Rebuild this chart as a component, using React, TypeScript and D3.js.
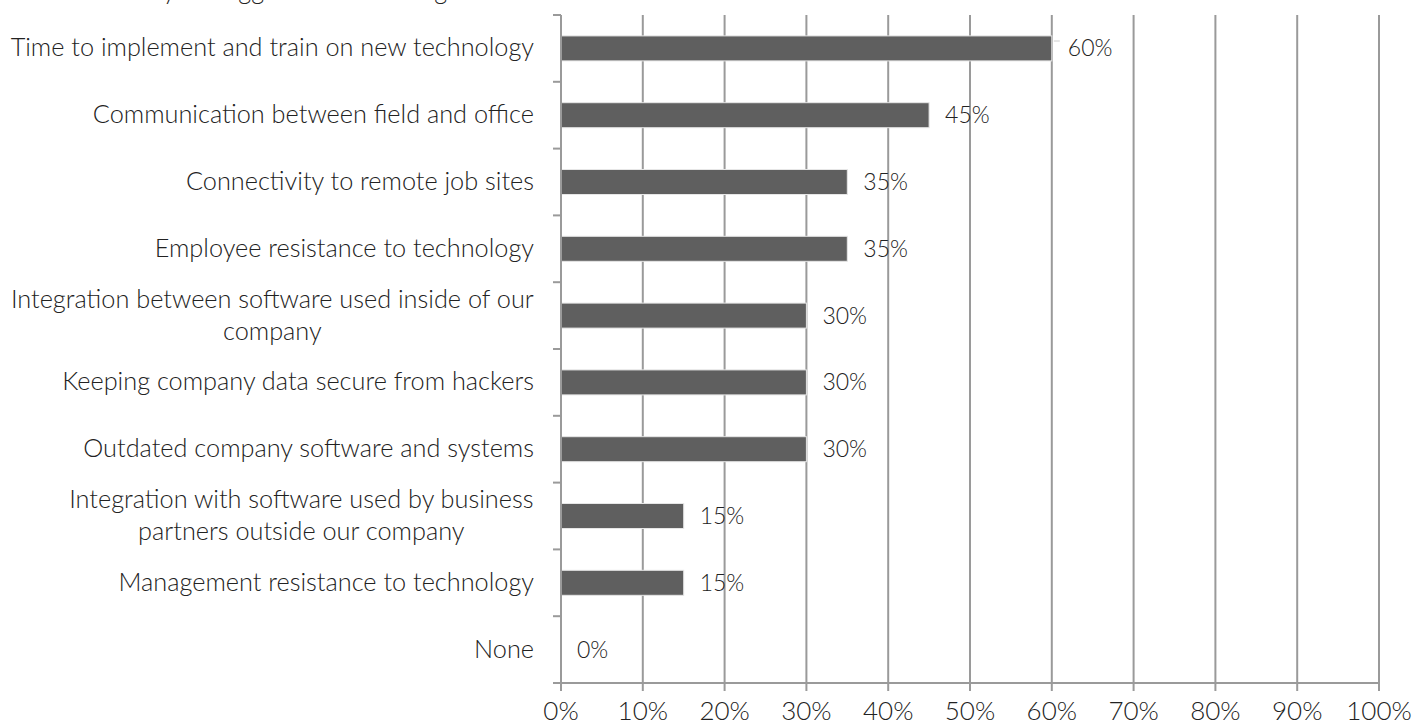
import React from "react";
import * as d3 from "d3";

const categories = [
  "Time to implement and train on new technology",
  "Communication between field and office",
  "Connectivity to remote job sites",
  "Employee resistance to technology",
  "Integration between software used inside of our company",
  "Keeping company data secure from hackers",
  "Outdated company software and systems",
  "Integration with software used by business partners outside our company",
  "Management resistance to technology",
  "None",
];
const categoryLines = [
  ["Time to implement and train on new technology"],
  ["Communication between field and office"],
  ["Connectivity to remote job sites"],
  ["Employee resistance to technology"],
  ["Integration between software used inside of our", "company"],
  ["Keeping company data secure from hackers"],
  ["Outdated company software and systems"],
  ["Integration with software used by business", "partners outside our company"],
  ["Management resistance to technology"],
  ["None"],
];
const values = [0.6, 0.45, 0.35, 0.35, 0.3, 0.3, 0.3, 0.15, 0.15, 0];
const xTicks = [0, 0.1, 0.2, 0.3, 0.4, 0.5, 0.6, 0.7, 0.8, 0.9, 1.0];
const titleText = "What are your biggest tech challenges?";

const W = 1415;
const H = 728;
const FONT = "Lato, 'Open Sans', sans-serif";
const CAT_SIZE = 25.3;

let ctx: CanvasRenderingContext2D | null = null;
function measure(s: string, size: number) {
  if (!ctx) ctx = document.createElement("canvas").getContext("2d");
  if (!ctx) return s.length * size * 0.45;
  ctx.font = `300 ${size}px Lato, 'Open Sans', sans-serif`;
  return ctx.measureText(s).width;
}

export default function App() {
  const left = 561;
  const right = 1379;
  const top = 15;
  const bottom = 683;
  const x = d3.scaleLinear().domain([0, 1]).range([left, right]);
  const y = d3.scaleBand<string>().domain(categories).range([top, bottom]).paddingInner(0).paddingOuter(0);
  const bw = y.bandwidth();
  const barH = 25;
  const grid = "#9a9a9a";
  const fmt = d3.format(".0%");
  const bounds = [...categories.map((c) => y(c)!), bottom];
  const labelRight = 534;

  return (
    <svg
      width={W}
      height={H}
      style={{ position: "absolute", left: 0, top: 0, background: "#fff" }}
      fontFamily={FONT}
      fontWeight={300}
    >
      <text x={56} y={-1} fontSize={CAT_SIZE} fill="#222">{titleText}</text>
      {xTicks.slice(1).map((t) => (
        <line key={"g" + t} x1={x(t)} x2={x(t)} y1={top} y2={bottom} stroke={grid} strokeWidth={2} />
      ))}
      {categories.map((c, i) => {
        const cy = y(c)! + bw / 2;
        return (
          <rect
            key={c}
            x={x(0)}
            y={cy - barH / 2}
            width={x(values[i]) - x(0)}
            height={barH}
            fill="#5f5f5f"
            stroke="#e6e6e6"
            strokeWidth={values[i] > 0 ? 1 : 0}
          />
        );
      })}
      {categories.map((c, i) => {
        const cy = y(c)! + bw / 2;
        return (
          <text key={"v" + c} x={x(values[i]) + 16} y={cy + 8} fontSize={23} fill="#222">
            {fmt(values[i])}
          </text>
        );
      })}
      <line x1={x(0.6) + 2} x2={x(0.6) + 8} y1={41} y2={41} stroke="#ccc" strokeWidth={1} />
      <line x1={left} x2={left} y1={top} y2={bottom} stroke={grid} strokeWidth={2} />
      {bounds.map((b, i) => (
        <line key={"yt" + i} x1={left - 8} x2={left} y1={b} y2={b} stroke={grid} strokeWidth={2} />
      ))}
      <line x1={left} x2={right} y1={bottom} y2={bottom} stroke={grid} strokeWidth={2} />
      {xTicks.map((t) => (
        <line key={"xt" + t} x1={x(t)} x2={x(t)} y1={bottom} y2={bottom + 8} stroke={grid} strokeWidth={2} />
      ))}
      {xTicks.map((t) => (
        <text key={"xl" + t} x={x(t)} y={720} fontSize={26} textAnchor="middle" fill="#222">
          {fmt(t)}
        </text>
      ))}
      {categories.map((c, i) => {
        const lines = categoryLines[i];
        const cy = y(c)! + bw / 2;
        const lh = 32;
        const startY = cy + 8 - ((lines.length - 1) * lh) / 2;
        const multi = lines.length > 1;
        const maxW = multi ? Math.max(...lines.map((l) => measure(l, CAT_SIZE))) : 0;
        const cx = labelRight - maxW / 2;
        return (
          <text key={"c" + c} fontSize={CAT_SIZE} fill="#222" textAnchor={multi ? "middle" : "end"}>
            {lines.map((l, j) => (
              <tspan key={j} x={multi ? cx : labelRight} y={startY + j * lh}>
                {l}
              </tspan>
            ))}
          </text>
        );
      })}
    </svg>
  );
}
